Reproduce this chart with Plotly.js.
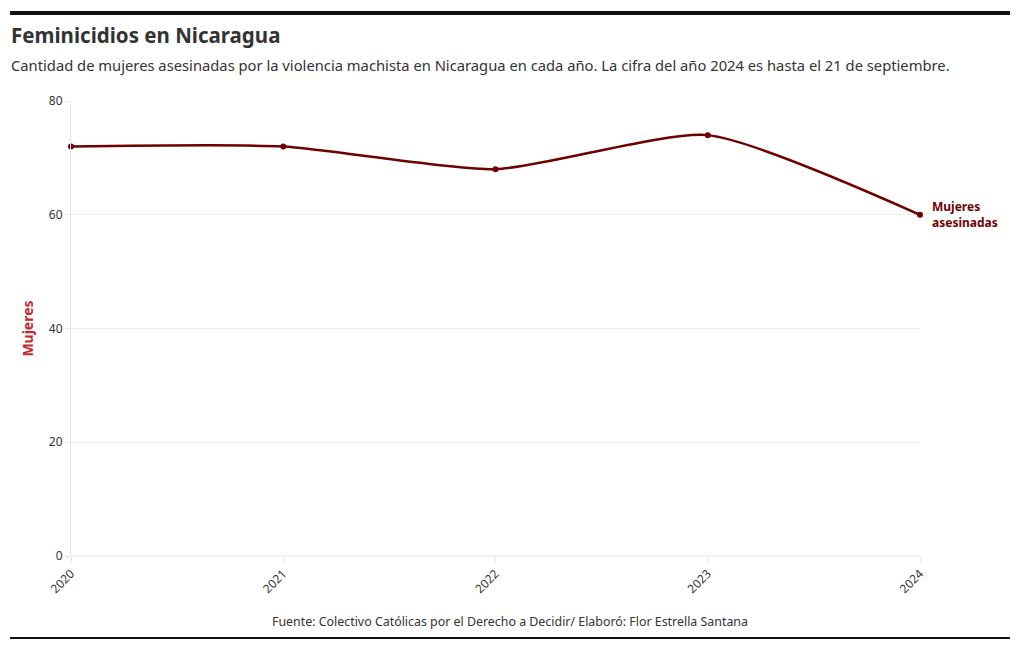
<!DOCTYPE html>
<html><head><meta charset="utf-8">
<script src="https://cdn.plot.ly/plotly-3.0.1.min.js"></script>
<style>html,body{margin:0;padding:0;background:#fff}#c{width:1020px;height:650px}</style>
</head><body><div id="c"></div>
<script>
const years = ['2020','2021','2022','2023','2024'];
const mujeres = [72, 72, 68, 74, 60];
const yTicks = [0, 20, 40, 60, 80];
const seriesName = 'Mujeres<br>asesinadas';
const FONT = '"Source Sans Pro","Noto Sans",Lato,sans-serif';
const lineColor = '#6e0000';

const trace = {
  x: years.map(Number), y: mujeres, type: 'scatter', mode: 'lines+markers',
  line: {color: lineColor, width: 2.5, shape: 'spline', smoothing: 0.6},
  marker: {color: lineColor, size: 6}, hoverinfo: 'x+y', showlegend: false,
  cliponaxis: false
};

const layout = {
  width: 1020, height: 650,
  margin: {l: 71, r: 100, t: 101, b: 94},
  paper_bgcolor: '#fff', plot_bgcolor: '#fff',
  font: {family: FONT, size: 12, color: '#333'},
  xaxis: {
    range: [2020, 2024], tickvals: years.map(Number), ticktext: years,
    tickangle: -45, showgrid: false, zeroline: false, showline: false,
    ticks: 'outside', ticklen: 5, tickcolor: '#e6e6e6',
    tickfont: {size: 12, color: '#333'}
  },
  yaxis: {
    range: [0, 80], tickvals: yTicks, showgrid: true, gridcolor: '#efefef',
    zeroline: false, showline: true, linecolor: '#e6e6e6', linewidth: 1,
    ticks: 'outside', ticklen: 5, tickcolor: '#e6e6e6',
    tickfont: {size: 12, color: '#333'},
    title: {text: '<b>Mujeres</b>', font: {size: 14, color: '#c1272d', family: FONT}, standoff: 11}
  },
  shapes: [
    {type: 'line', xref: 'paper', yref: 'paper', x0: -0.0718, x1: 1.106, y0: 1.1934, y1: 1.1934,
     line: {color: '#111', width: 4}},
    {type: 'line', xref: 'paper', yref: 'paper', x0: -0.0718, x1: 1.106, y0: -0.1802, y1: -0.1802,
     line: {color: '#111', width: 2}},
    {type: 'line', xref: 'paper', yref: 'paper', x0: 0, x1: 1, y0: 0, y1: 0,
     line: {color: '#e6e6e6', width: 1}}
  ],
  annotations: [
    {xref: 'paper', yref: 'paper', x: -0.0725, y: 1.145, xanchor: 'left', yanchor: 'middle',
     text: '<b>Feminicidios en Nicaragua</b>', showarrow: false,
     font: {size: 20.5, color: '#333', family: FONT}},
    {xref: 'paper', yref: 'paper', x: -0.0725, y: 1.08, xanchor: 'left', yanchor: 'middle',
     text: 'Cantidad de mujeres asesinadas por la violencia machista en Nicaragua en cada año. La cifra del año 2024 es hasta el 21 de septiembre.',
     showarrow: false, font: {size: 14.75, color: '#333', family: FONT}},
    {xref: 'paper', yref: 'paper', x: 0.517, y: -0.145, xanchor: 'center', yanchor: 'middle',
     text: 'Fuente: Colectivo Católicas por el Derecho a Decidir/ Elaboró: Flor Estrella Santana',
     showarrow: false, font: {size: 12.4, color: '#333', family: FONT}},
    {x: Number(years[years.length-1]), y: mujeres[mujeres.length-1], xref: 'x', yref: 'y',
     text: '<b>' + seriesName + '</b>', showarrow: false, xanchor: 'left', yanchor: 'middle',
     xshift: 10, align: 'left', font: {size: 12, color: lineColor, family: FONT}}
  ]
};
Plotly.newPlot('c', [trace], layout, {displayModeBar: false, staticPlot: true});
</script></body></html>
